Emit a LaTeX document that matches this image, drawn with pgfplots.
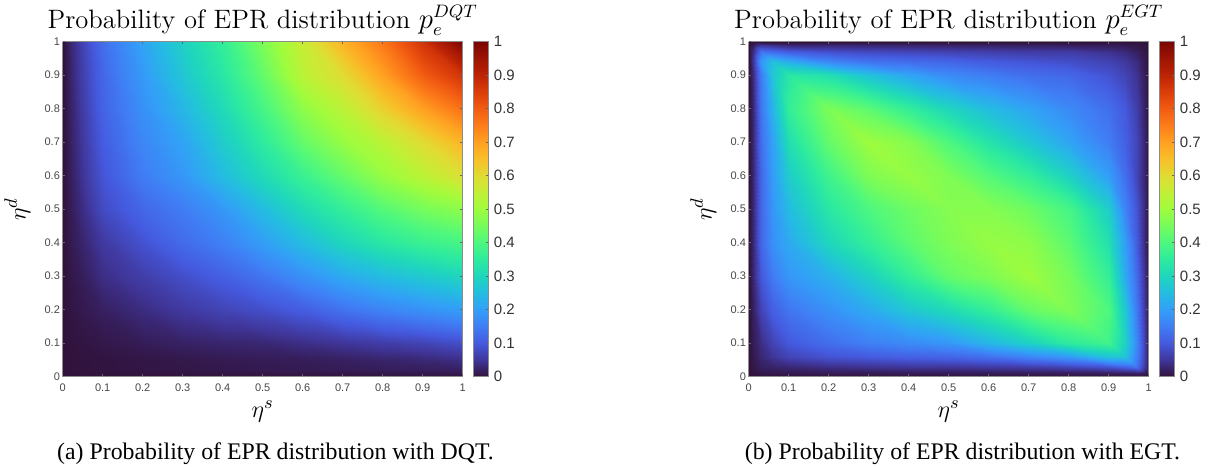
\documentclass[border=0pt]{standalone}
\usepackage{fontspec}
\usepackage{pgfplots}
\pgfplotsset{compat=1.18}
\newfontfamily\hv{Liberation Sans}
\newfontfamily\tm{Liberation Serif}
\definecolor{axgray}{gray}{0.55}
\definecolor{lblgray}{gray}{0.28}
\pgfplotsset{
  colormap={turbo}{
    rgb=(.19,.07,.23) rgb=(.25,.21,.60) rgb=(.27,.35,.87) rgb=(.25,.49,.96)
    rgb=(.20,.62,.97) rgb=(.14,.74,.88) rgb=(.12,.84,.74) rgb=(.18,.92,.62)
    rgb=(.30,.97,.50) rgb=(.46,.99,.36) rgb=(.62,.99,.24) rgb=(.76,.94,.21)
    rgb=(.88,.86,.20) rgb=(.97,.75,.16) rgb=(1,.63,.13) rgb=(.99,.49,.10)
    rgb=(.95,.36,.07) rgb=(.86,.24,.04) rgb=(.74,.14,.02) rgb=(.62,.08,.01)
    rgb=(.48,.02,.01)},
  heat/.style={
    at={(#1)}, anchor=south west,
    scale only axis, width=200pt, height=167.5pt,
    view={0}{90}, axis on top,
    xmin=0, xmax=1, ymin=0, ymax=1,
    enlargelimits=false,
    point meta min=0, point meta max=1,
    xtick={0,0.1,...,1.01}, ytick={0,0.1,...,1.01},
    xticklabels={0,0.1,0.2,0.3,0.4,0.5,0.6,0.7,0.8,0.9,1},
    yticklabels={0,0.1,0.2,0.3,0.4,0.5,0.6,0.7,0.8,0.9,1},
    tick align=inside, tick pos=both,
    major tick length=1.2pt,
    tick style={black!60, line width=.25pt},
    axis line style={axgray, line width=.5pt},
    ticklabel pos=left,
    tick label style={font=\hv\fontsize{5.5}{6}\selectfont, text=lblgray, inner sep=1.2pt},
    xticklabel style={yshift=-2.2pt},
    /pgf/number format/assume math mode=true,
    title style={at={(0.5,1)}, anchor=south, yshift=-4pt, font=\fontsize{13.3}{15}\selectfont, inner sep=1pt},
    xlabel style={at={(0.5,0)}, anchor=north, yshift=-12pt, font=\fontsize{13}{14}\selectfont, inner sep=0pt},
    ylabel style={at={(0,0.5)}, anchor=south, yshift=16pt, font=\fontsize{13}{14}\selectfont, inner sep=0pt},
    xlabel={$\eta^s$}, ylabel={$\eta^d$},
    colorbar,
    colorbar style={
      at={(parent axis.south east)}, anchor=south west, xshift=-3.3pt,
      width=7.8pt, height=167.5pt,
      ytick={0,0.1,...,1.01},
      yticklabels={0,0.1,0.2,0.3,0.4,0.5,0.6,0.7,0.8,0.9,1},
      tick align=inside, major tick length=1.2pt,
      ytick pos=right, yticklabel pos=right,
      axis line style={axgray, line width=.4pt},
      tick style={black!60, line width=.25pt},
      yticklabel style={font=\hv\fontsize{7.5}{8}\selectfont, text=black!80, inner sep=2.4pt},
      /pgf/number format/assume math mode=true,
    },
  },
}
\begin{document}
\begin{tikzpicture}
\useasboundingbox (0,0) rectangle (605pt,233pt);

% DQT
\begin{axis}[heat={31.35pt,44.65pt}, title={Probability of EPR distribution $p_e^{DQT}$}]
\addplot3[surf, shader=interp, mesh/cols=13] coordinates {
(0,0,0) (.02,0,0) (.05,0,0) (.1,0,0) (.2,0,0) (.3,0,0) (.4,0,0) (.5,0,0) (.6,0,0) (.7,0,0) (.8,0,0) (.9,0,0) (1,0,0)
(0,.02,0) (.02,.02,.001) (.05,.02,.002) (.1,.02,.003) (.2,.02,.005) (.3,.02,.007) (.4,.02,.009) (.5,.02,.011) (.6,.02,.012) (.7,.02,.014) (.8,.02,.016) (.9,.02,.018) (1,.02,.02)
(0,.05,0) (.02,.05,.001) (.05,.05,.002) (.1,.05,.003) (.2,.05,.006) (.3,.05,.009) (.4,.05,.012) (.5,.05,.014) (.6,.05,.016) (.7,.05,.02) (.8,.05,.025) (.9,.05,.03) (1,.05,.04)
(0,.1,0) (.02,.1,.002) (.05,.1,.004) (.1,.1,.008) (.2,.1,.015) (.3,.1,.022) (.4,.1,.027) (.5,.1,.03) (.6,.1,.04) (.7,.1,.05) (.8,.1,.06) (.9,.1,.07) (1,.1,.085)
(0,.2,0) (.02,.2,.005) (.05,.2,.011) (.1,.2,.02) (.2,.2,.037) (.3,.2,.055) (.4,.2,.07) (.5,.2,.085) (.6,.2,.105) (.7,.2,.135) (.8,.2,.16) (.9,.2,.18) (1,.2,.2)
(0,.3,0) (.02,.3,.008) (.05,.3,.018) (.1,.3,.04) (.2,.3,.062) (.3,.3,.085) (.4,.3,.11) (.5,.3,.14) (.6,.3,.18) (.7,.3,.22) (.8,.3,.25) (.9,.3,.275) (1,.3,.3)
(0,.4,0) (.02,.4,.012) (.05,.4,.028) (.1,.4,.055) (.2,.4,.09) (.3,.4,.125) (.4,.4,.155) (.5,.4,.2) (.6,.4,.25) (.7,.4,.3) (.8,.4,.34) (.9,.4,.37) (1,.4,.39)
(0,.5,0) (.02,.5,.016) (.05,.5,.04) (.1,.5,.08) (.2,.5,.12) (.3,.5,.15) (.4,.5,.19) (.5,.5,.25) (.6,.5,.31) (.7,.5,.36) (.8,.5,.41) (.9,.5,.45) (1,.5,.48)
(0,.6,0) (.02,.6,.02) (.05,.6,.05) (.1,.6,.095) (.2,.6,.15) (.3,.6,.19) (.4,.6,.25) (.5,.6,.31) (.6,.6,.37) (.7,.6,.43) (.8,.6,.49) (.9,.6,.54) (1,.6,.59)
(0,.7,0) (.02,.7,.022) (.05,.7,.055) (.1,.7,.105) (.2,.7,.165) (.3,.7,.21) (.4,.7,.28) (.5,.7,.35) (.6,.7,.43) (.7,.7,.49) (.8,.7,.54) (.9,.7,.6) (1,.7,.67)
(0,.8,0) (.02,.8,.025) (.05,.8,.06) (.1,.8,.115) (.2,.8,.18) (.3,.8,.24) (.4,.8,.31) (.5,.8,.39) (.6,.8,.48) (.7,.8,.54) (.8,.8,.62) (.9,.8,.7) (1,.8,.77)
(0,.9,0) (.02,.9,.028) (.05,.9,.065) (.1,.9,.12) (.2,.9,.195) (.3,.9,.27) (.4,.9,.34) (.5,.9,.43) (.6,.9,.54) (.7,.9,.6) (.8,.9,.7) (.9,.9,.8) (1,.9,.87)
(0,1,0) (.02,1,.03) (.05,1,.07) (.1,1,.13) (.2,1,.21) (.3,1,.29) (.4,1,.36) (.5,1,.46) (.6,1,.56) (.7,1,.67) (.8,1,.76) (.9,1,.87) (1,1,1)
};
\end{axis}
\node[anchor=center, font=\tm\fontsize{11.9}{14}\selectfont, inner sep=0pt] at (137.75pt,6pt) {(a) Probability of EPR distribution with DQT.};

% EGT
\begin{axis}[heat={374.35pt,44.65pt}, title={Probability of EPR distribution $p_e^{EGT}$}]
\addplot3[surf, shader=interp, mesh/cols=17] coordinates {
(0,0,0) (.01,0,0) (.03,0,0) (.06,0,0) (.1,0,0) (.2,0,0) (.3,0,0) (.4,0,0) (.5,0,0) (.6,0,0) (.7,0,0) (.8,0,0) (.9,0,0) (.94,0,0) (.97,0,0) (.99,0,0) (1,0,0)
(0,.01,0) (.01,.01,.003) (.03,.01,.008) (.06,.01,.01) (.1,.01,.012) (.2,.01,.014) (.3,.01,.014) (.4,.01,.015) (.5,.01,.015) (.6,.01,.015) (.7,.01,.015) (.8,.01,.016) (.9,.01,.018) (.94,.01,.02) (.97,.01,.022) (.99,.01,.012) (1,.01,0)
(0,.03,0) (.01,.03,.008) (.03,.03,.02) (.06,.03,.025) (.1,.03,.03) (.2,.03,.04) (.3,.03,.045) (.4,.03,.05) (.5,.03,.05) (.6,.03,.055) (.7,.03,.06) (.8,.03,.07) (.9,.03,.09) (.94,.03,.11) (.97,.03,.13) (.99,.03,.05) (1,.03,0)
(0,.06,0) (.01,.06,.01) (.03,.06,.03) (.06,.06,.05) (.1,.06,.07) (.2,.06,.09) (.3,.06,.1) (.4,.06,.11) (.5,.06,.115) (.6,.06,.13) (.7,.06,.16) (.8,.06,.19) (.9,.06,.26) (.94,.06,.26) (.97,.06,.15) (.99,.06,.06) (1,.06,0)
(0,.1,0) (.01,.1,.015) (.03,.1,.04) (.06,.1,.07) (.1,.1,.1) (.2,.1,.13) (.3,.1,.155) (.4,.1,.17) (.5,.1,.19) (.6,.1,.24) (.7,.1,.29) (.8,.1,.35) (.9,.1,.38) (.94,.1,.29) (.97,.1,.16) (.99,.1,.06) (1,.1,0)
(0,.2,0) (.01,.2,.02) (.03,.2,.07) (.06,.2,.11) (.1,.2,.14) (.2,.2,.18) (.3,.2,.22) (.4,.2,.27) (.5,.2,.31) (.6,.2,.36) (.7,.2,.43) (.8,.2,.46) (.9,.2,.4) (.94,.2,.27) (.97,.2,.14) (.99,.2,.05) (1,.2,0)
(0,.3,0) (.01,.3,.03) (.03,.3,.1) (.06,.3,.15) (.1,.3,.19) (.2,.3,.23) (.3,.3,.29) (.4,.3,.36) (.5,.3,.43) (.6,.3,.46) (.7,.3,.5) (.8,.3,.45) (.9,.3,.36) (.94,.3,.22) (.97,.3,.12) (.99,.3,.04) (1,.3,0)
(0,.4,0) (.01,.4,.03) (.03,.4,.12) (.06,.4,.18) (.1,.4,.22) (.2,.4,.3) (.3,.4,.36) (.4,.4,.42) (.5,.4,.46) (.6,.4,.49) (.7,.4,.48) (.8,.4,.42) (.9,.4,.32) (.94,.4,.2) (.97,.4,.1) (.99,.4,.03) (1,.4,0)
(0,.5,0) (.01,.5,.03) (.03,.5,.12) (.06,.5,.19) (.1,.5,.25) (.2,.5,.34) (.3,.5,.4) (.4,.5,.44) (.5,.5,.47) (.6,.5,.47) (.7,.5,.44) (.8,.5,.39) (.9,.5,.28) (.94,.5,.16) (.97,.5,.09) (.99,.5,.03) (1,.5,0)
(0,.6,0) (.01,.6,.03) (.03,.6,.12) (.06,.6,.2) (.1,.6,.28) (.2,.6,.38) (.3,.6,.46) (.4,.6,.49) (.5,.6,.46) (.6,.6,.41) (.7,.6,.36) (.8,.6,.29) (.9,.6,.2) (.94,.6,.13) (.97,.6,.07) (.99,.6,.025) (1,.6,0)
(0,.7,0) (.01,.7,.03) (.03,.7,.13) (.06,.7,.21) (.1,.7,.32) (.2,.7,.43) (.3,.7,.5) (.4,.7,.47) (.5,.7,.4) (.6,.7,.33) (.7,.7,.27) (.8,.7,.21) (.9,.7,.15) (.94,.7,.11) (.97,.7,.07) (.99,.7,.025) (1,.7,0)
(0,.8,0) (.01,.8,.03) (.03,.8,.14) (.06,.8,.24) (.1,.8,.36) (.2,.8,.46) (.3,.8,.42) (.4,.8,.36) (.5,.8,.3) (.6,.8,.25) (.7,.8,.21) (.8,.8,.17) (.9,.8,.13) (.94,.8,.1) (.97,.8,.06) (.99,.8,.02) (1,.8,0)
(0,.9,0) (.01,.9,.035) (.03,.9,.15) (.06,.9,.27) (.1,.9,.34) (.2,.9,.32) (.3,.9,.26) (.4,.9,.21) (.5,.9,.17) (.6,.9,.15) (.7,.9,.13) (.8,.9,.12) (.9,.9,.09) (.94,.9,.07) (.97,.9,.045) (.99,.9,.015) (1,.9,0)
(0,.94,0) (.01,.94,.05) (.03,.94,.19) (.06,.94,.26) (.1,.94,.23) (.2,.94,.17) (.3,.94,.14) (.4,.94,.13) (.5,.94,.12) (.6,.94,.105) (.7,.94,.095) (.8,.94,.085) (.9,.94,.07) (.94,.94,.055) (.97,.94,.035) (.99,.94,.012) (1,.94,0)
(0,.97,0) (.01,.97,.04) (.03,.97,.14) (.06,.97,.13) (.1,.97,.11) (.2,.97,.09) (.3,.97,.08) (.4,.97,.075) (.5,.97,.07) (.6,.97,.065) (.7,.97,.06) (.8,.97,.06) (.9,.97,.045) (.94,.97,.035) (.97,.97,.02) (.99,.97,.008) (1,.97,0)
(0,.99,0) (.01,.99,.015) (.03,.99,.05) (.06,.99,.04) (.1,.99,.03) (.2,.99,.03) (.3,.99,.028) (.4,.99,.026) (.5,.99,.024) (.6,.99,.022) (.7,.99,.02) (.8,.99,.018) (.9,.99,.015) (.94,.99,.012) (.97,.99,.008) (.99,.99,.003) (1,.99,0)
(0,1,0) (.01,1,0) (.03,1,0) (.06,1,0) (.1,1,0) (.2,1,0) (.3,1,0) (.4,1,0) (.5,1,0) (.6,1,0) (.7,1,0) (.8,1,0) (.9,1,0) (.94,1,0) (.97,1,0) (.99,1,0) (1,1,0)
};
\end{axis}
\node[anchor=center, font=\tm\fontsize{11.9}{14}\selectfont, inner sep=0pt] at (481.25pt,6pt) {(b) Probability of EPR distribution with EGT.};
\end{tikzpicture}
\end{document}
